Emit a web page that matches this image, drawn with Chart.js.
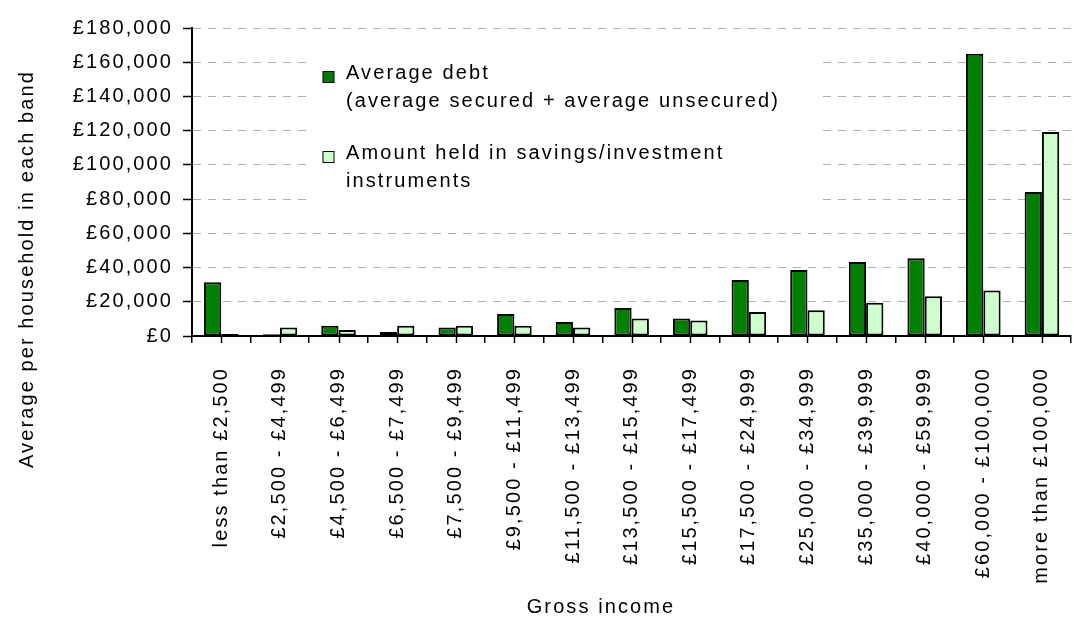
<!DOCTYPE html>
<html>
<head>
<meta charset="utf-8">
<script src="https://cdn.jsdelivr.net/npm/chart.js@4/dist/chart.umd.min.js"></script>
<style>
  html, body { margin: 0; padding: 0; background: #fff; overflow: hidden; }
  #wrap { width: 1090px; height: 619px; position: relative; }
</style>
</head>
<body>
<div id="wrap"><canvas id="c"></canvas></div>
<script>
const categories = ['less than £2,500', '£2,500 - £4,499', '£4,500 - £6,499', '£6,500 - £7,499', '£7,500 - £9,499', '£9,500 - £11,499', '£11,500 - £13,499', '£13,500 - £15,499', '£15,500 - £17,499', '£17,500 - £24,999', '£25,000 - £34,999', '£35,000 - £39,999', '£40,000 - £59,999', '£60,000 - £100,000', 'more than £100,000'];
const averageDebt = [31400, 1000, 6000, 2300, 4900, 12800, 8200, 16300, 10200, 32800, 38500, 43200, 45400, 164900, 84100];
const savingsHeld = [1200, 4900, 3500, 6000, 6000, 6000, 4900, 10200, 9000, 14000, 15100, 19500, 23200, 26600, 119200];
const debtLegend = ['Average debt', '(average secured + average unsecured)'];
const savingsLegend = ['Amount held in savings/investment', 'instruments'];
const yTitle = 'Average per household in each band';
const xTitle = 'Gross income';
const yMin = 0, yMax = 180000, yStep = 20000;

const FONT = '"Liberation Sans", Arial, sans-serif';
const FSIZE = 20;
const SPACING = '2.1px';

const extras = {
  id: 'extras',
  beforeDraw(chart) {
    chart.ctx.letterSpacing = SPACING;
  },
  beforeDatasetsDraw(chart) {
    const ctx = chart.ctx;
    ctx.save();
    ctx.fillStyle = '#ffffff';
    ctx.fillRect(308, 40, 513, 172);
    ctx.restore();
  },
  afterDraw(chart) {
    const ctx = chart.ctx;
    const x = chart.scales.x;
    ctx.save();
    ctx.letterSpacing = SPACING;
    ctx.setLineDash([]);
    ctx.strokeStyle = '#000';
    ctx.lineWidth = 1.5;
    for (let i = 0; i < categories.length; i++) {
      const px = Math.round(x.getPixelForTick(i)) + 0.5;
      ctx.beginPath();
      ctx.moveTo(px, x.top);
      ctx.lineTo(px, x.top + 7);
      ctx.stroke();
    }
    ctx.font = FSIZE + 'px ' + FONT;
    ctx.textAlign = 'left';
    ctx.textBaseline = 'alphabetic';
    const items = [
      { lines: debtLegend, ds: chart.data.datasets[0], y: 71.5 },
      { lines: savingsLegend, ds: chart.data.datasets[1], y: 151.5 }
    ];
    items.forEach(it => {
      ctx.fillStyle = it.ds.backgroundColor;
      ctx.fillRect(323, it.y, 11, 11);
      ctx.strokeStyle = '#000';
      ctx.lineWidth = 1;
      ctx.strokeRect(323, it.y, 11, 11);
      ctx.fillStyle = '#000';
      it.lines.forEach((t, j) => ctx.fillText(t, 346, it.y + 7 + j * 28.5));
    });
    ctx.font = FSIZE + 'px ' + FONT;
    ctx.textAlign = 'center';
    ctx.textBaseline = 'middle';
    ctx.fillText(xTitle, 601, 607);
    ctx.translate(27, 269);
    ctx.rotate(-Math.PI / 2);
    ctx.fillText(yTitle, 0, 0);
    ctx.restore();
  }
};

new Chart(document.getElementById('c'), {
  type: 'bar',
  data: {
    labels: categories,
    datasets: [
      { label: debtLegend.join(' '), data: averageDebt, backgroundColor: '#008000', borderColor: '#000', borderWidth: 2, borderSkipped: false },
      { label: savingsLegend.join(' '), data: savingsHeld, backgroundColor: '#ccffcc', borderColor: '#000', borderWidth: 2, borderSkipped: false }
    ]
  },
  options: {
    responsive: true,
    maintainAspectRatio: false,
    animation: false,
    events: [],
    datasets: { bar: { categoryPercentage: 0.59, barPercentage: 1.0 } },
    layout: { padding: { top: 28, right: 2, left: 0, bottom: 0 } },
    plugins: { legend: { display: false }, tooltip: { enabled: false }, title: { display: false } },
    scales: {
      x: {
        offset: true,
        grid: { display: true, offset: true, drawOnChartArea: false, drawTicks: true, tickLength: 7, color: '#000', tickColor: '#000', lineWidth: 1.5 },
        border: { display: true, color: '#000', width: 2 },
        ticks: { autoSkip: false, minRotation: 90, maxRotation: 90, padding: 24, color: '#000', font: { family: FONT, size: FSIZE } },
        afterFit(scale) { scale.height = 619 - 336; }
      },
      y: {
        min: yMin, max: yMax,
        grid: {
          color: ctx => (ctx.tick && ctx.tick.value === 0) ? 'rgba(0,0,0,0)' : '#b0b0b0',
          lineWidth: 1, drawTicks: true, tickLength: 9, tickColor: '#000', tickWidth: 1.5, tickBorderDash: [0, 0]
        },
        border: { display: true, color: '#000', width: 2, dash: [8, 7] },
        ticks: {
          stepSize: yStep, padding: 10, color: '#000', font: { family: FONT, size: FSIZE },
          callback: v => '£' + Number(v).toLocaleString('en-GB')
        },
        afterFit(scale) { scale.width = 192; }
      }
    }
  },
  plugins: [extras]
});
</script>
</body>
</html>
